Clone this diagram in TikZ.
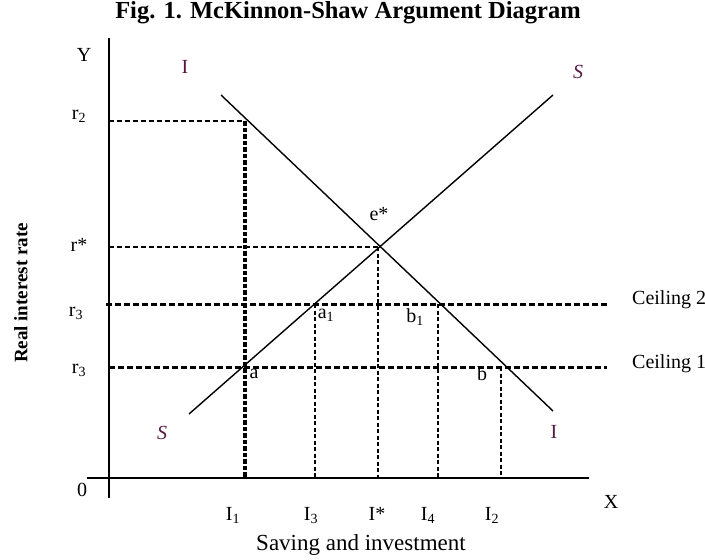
\documentclass[tikz,border=0pt]{standalone}
\usepackage{fontspec}
\setmainfont{Liberation Serif}
\definecolor{curvelbl}{RGB}{85,25,70}
\tikzset{
  lbl/.style={font=\fontsize{20}{20}\selectfont, inner sep=0pt},
  clbl/.style={lbl, text=curvelbl},
  axisline/.style={line width=1.5pt, black},
  curveline/.style={line width=1.4pt, black},
  ceilline/.style={line width=3pt, dash pattern=on 6pt off 3pt},
  refline/.style={line width=2pt, dash pattern=on 5pt off 3pt},
  thickdot/.style={line width=3.2pt, dash pattern=on 4.5pt off 2pt},
  thindash/.style={line width=1.7pt, dash pattern=on 4pt off 2.5pt},
}
\begin{document}
\begin{tikzpicture}[x=1pt,y=-1pt]
\useasboundingbox (0,0) rectangle (705,560);
% key points
\coordinate (ytop) at (109,38);
\coordinate (ybot) at (109,498);
\coordinate (xl) at (87,478);
\coordinate (xr) at (589,478);
\coordinate (Itop) at (221,95);
\coordinate (Ibot) at (553,411);
\coordinate (Stop) at (553,95);
\coordinate (Sbot) at (189,414);
\coordinate (r2y) at (109,121);
\coordinate (r2p) at (245,121);
\coordinate (rsy) at (109,247);
\coordinate (ep) at (378,247);
\coordinate (c2l) at (106,304);
\coordinate (c2r) at (607,304);
\coordinate (c1l) at (109,367);
\coordinate (c1r) at (607,367);
\coordinate (I1b) at (245,478);
\coordinate (I3t) at (315,304);
\coordinate (I3b) at (315,478);
\coordinate (Isb) at (378,478);
\coordinate (I4t) at (438,304);
\coordinate (I4b) at (438,478);
\coordinate (I2t) at (501,367);
\coordinate (I2b) at (501,478);
% axes
\draw[axisline] (ytop) -- (ybot);
\draw[axisline] (xl) -- (xr);
% reference lines
\draw[refline] (r2y) -- (r2p);
\draw[refline] (rsy) -- (ep);
\draw[ceilline] (c2l) -- (c2r);
\draw[ceilline] (c1l) -- (c1r);
\draw[thickdot] (r2p) -- (I1b);
\draw[thindash] (I3t) -- (I3b);
\draw[thindash] (ep) -- (Isb);
\draw[thindash] (I4t) -- (I4b);
\draw[thindash] (I2t) -- (I2b);
% curves
\draw[curveline] (Itop) -- (Ibot);
\draw[curveline] (Sbot) -- (Stop);
% title
\node[inner sep=0pt, font=\fontsize{24.5}{25}\selectfont\bfseries] (title) at (348,13) {Fig. 1. McKinnon-Shaw Argument Diagram};
% axis labels
\node[inner sep=0pt, font=\fontsize{19}{19}\selectfont\bfseries, rotate=90] (ylab) at (21,293) {Real interest rate};
\node[inner sep=0pt, font=\fontsize{23}{23}\selectfont] (xlab) at (361,545) {Saving and investment};
\node[lbl] (Y) at (84,55) {Y};
\node[lbl] (X) at (611,502) {X};
\node[lbl] (zero) at (82,490) {0};
% y ticks
\node[lbl] (r2) at (79,116) {r\textsubscript{2}};
\node[lbl] (rstar) at (79,245) {r*};
\node[lbl] (r3a) at (76,313) {r\textsubscript{3}};
\node[lbl] (r3b) at (79,370) {r\textsubscript{3}};
% x ticks
\node[lbl, anchor=base] (I1) at (233,520) {I\textsubscript{1}};
\node[lbl, anchor=base] (I3) at (311,520) {I\textsubscript{3}};
\node[lbl, anchor=base] (Istar) at (377,520) {I*};
\node[lbl, anchor=base] (I4) at (428,520) {I\textsubscript{4}};
\node[lbl, anchor=base] (I2) at (492,520) {I\textsubscript{2}};
% curve labels
\node[clbl] (Ilt) at (185,67) {I};
\node[clbl] (Irb) at (554,432) {I};
\node[clbl, font=\fontsize{20}{20}\selectfont\itshape] (Srt) at (578,72) {S};
\node[clbl, font=\fontsize{20}{20}\selectfont\itshape] (Slb) at (162,433) {S};
% point labels
\node[lbl] (estar) at (379,214) {e*};
\node[lbl] (a1) at (326,315) {a\textsubscript{1}};
\node[lbl] (b1) at (415,317) {b\textsubscript{1}};
\node[lbl] (a) at (254,374) {a};
\node[lbl] (b) at (482,374) {b};
% ceilings
\node[lbl, anchor=west] (c2) at (632,300) {Ceiling 2};
\node[lbl, anchor=west] (c1) at (632,364) {Ceiling 1};
\end{tikzpicture}
\end{document}
